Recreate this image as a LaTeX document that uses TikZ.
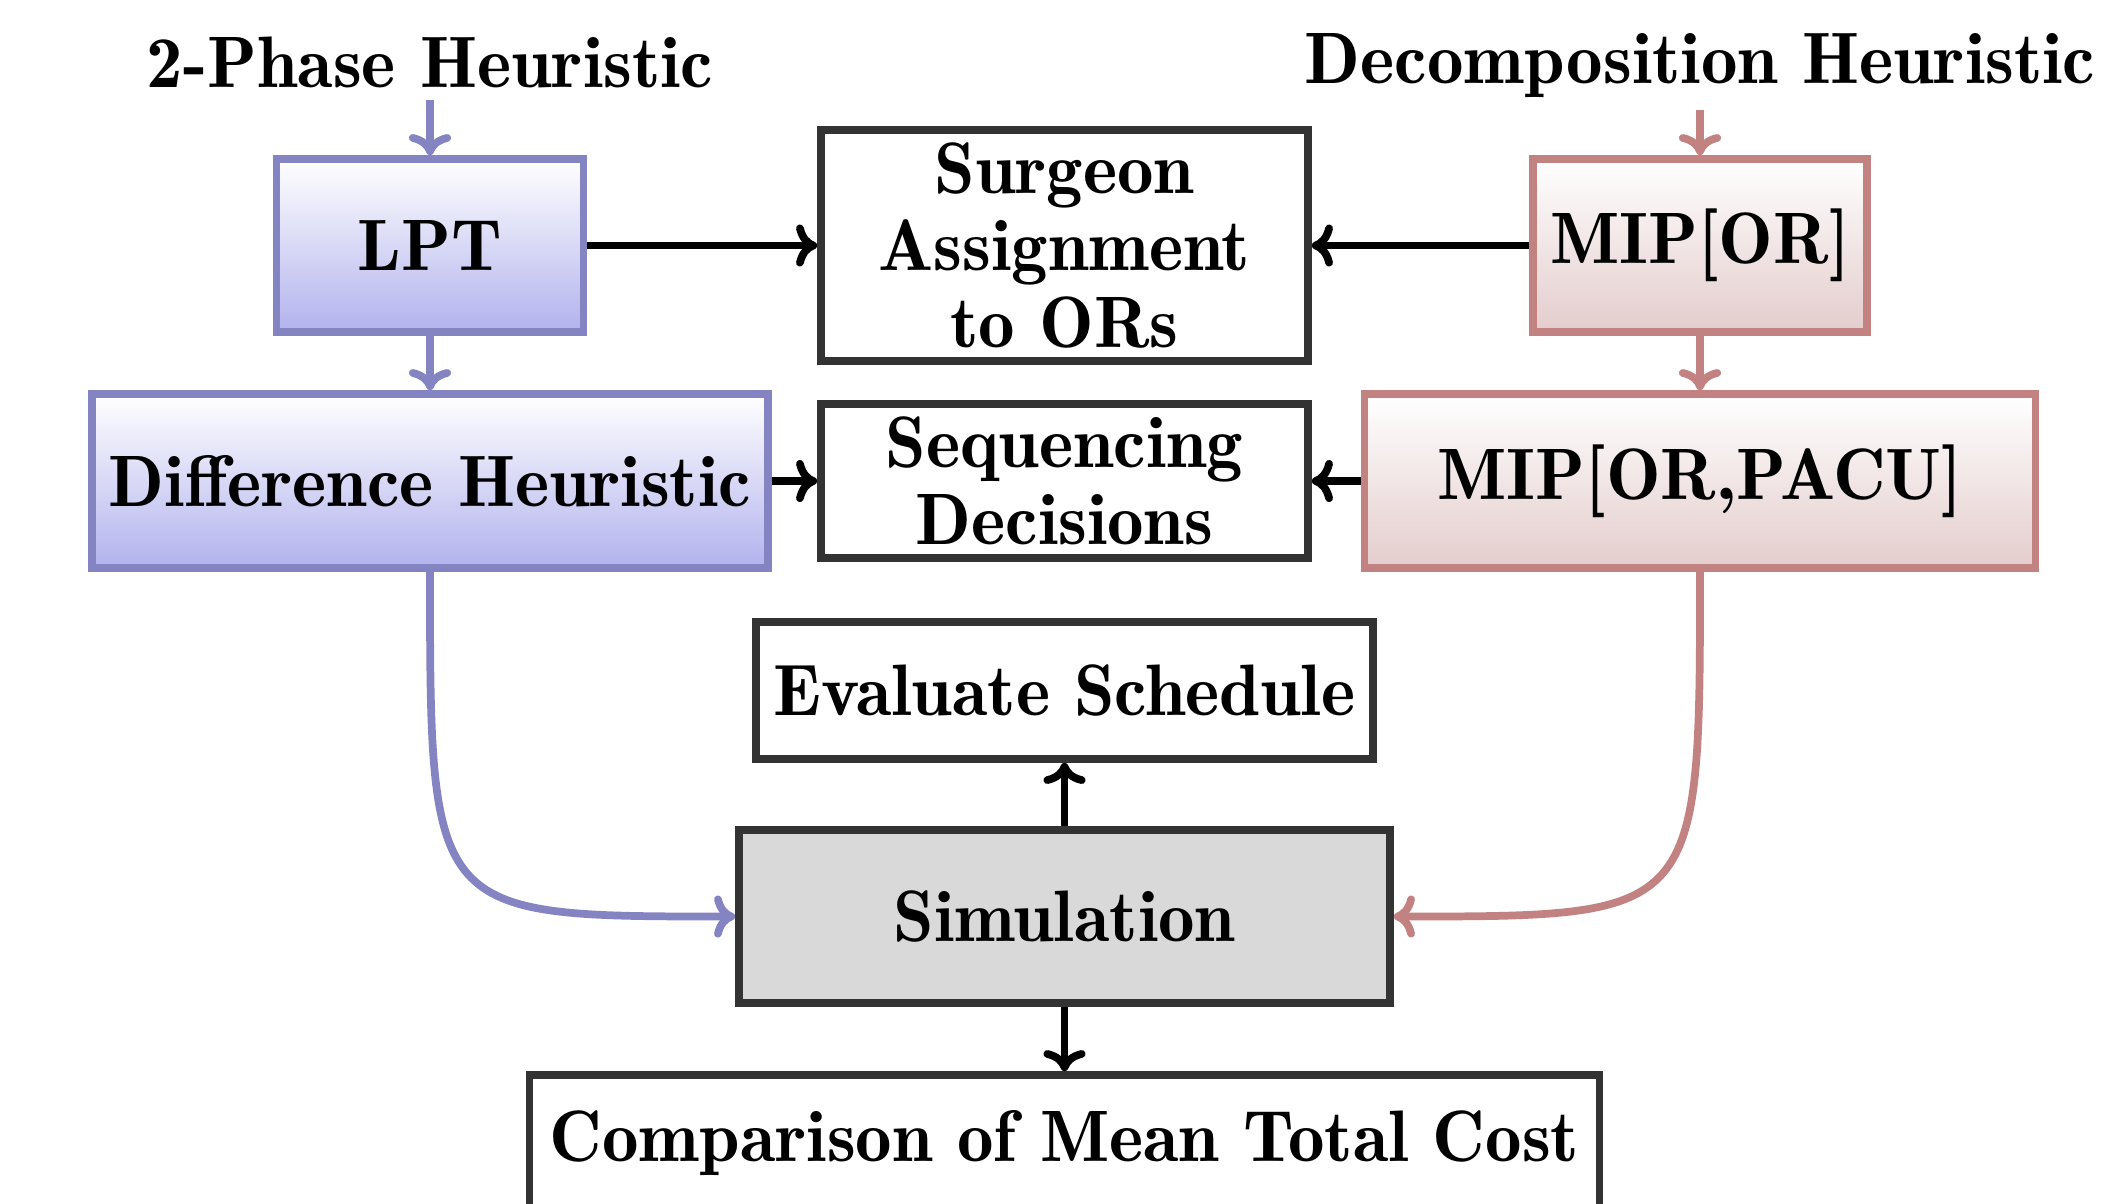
\documentclass[tikz,border=0pt]{standalone}
\usetikzlibrary{arrows.meta}
\definecolor{bl}{RGB}{132,132,194}
\definecolor{blf}{RGB}{178,178,238}
\definecolor{rd}{RGB}{194,130,130}
\definecolor{rdf}{RGB}{228,204,204}
\definecolor{dk}{RGB}{51,51,51}
\definecolor{gr}{RGB}{217,217,217}
\tikzset{
  txt/.style={font=\fontsize{20.74}{21.8}\fontseries{b}\selectfont, align=center},
  box/.style={txt, draw=dk, line width=2.2pt, inner sep=0pt, fill=white},
  bbox/.style={box, draw=bl, top color=white, bottom color=blf},
  rbox/.style={box, draw=rd, top color=white, bottom color=rdf},
  arr/.style={-{To[length=6pt,width=12pt]}, line width=2.2pt, black},
  barr/.style={arr, bl},
  rarr/.style={arr, rd},
}
\begin{document}
\begin{tikzpicture}
\useasboundingbox (0,0) rectangle (21.10,-12.03);
\node[txt, anchor=base] (t1) at (4.30,-0.87) {2-Phase Heuristic};
\node[txt, anchor=base] (t2) at (17.00,-0.83) {Decomposition Heuristic};
\node[bbox, minimum width=3.07cm, minimum height=1.73cm] (lpt) at (4.30,-2.455) {LPT};
\node[bbox, minimum width=6.76cm, minimum height=1.74cm] (dh) at (4.30,-4.81) {Difference Heuristic};
\node[box, minimum width=4.87cm, minimum height=2.31cm] (sa) at (10.645,-2.455) {Surgeon\\Assignment\\to ORs};
\node[box, minimum width=4.87cm, minimum height=1.54cm] (sd) at (10.645,-4.81) {Sequencing\\Decisions};
\node[rbox, minimum width=3.34cm, minimum height=1.73cm] (mo) at (17.00,-2.455) {MIP[OR]};
\node[rbox, minimum width=6.71cm, minimum height=1.74cm] (mp) at (17.00,-4.81) {MIP[OR,PACU]};
\node[box, minimum width=6.17cm, minimum height=1.37cm] (ev) at (10.645,-6.905) {Evaluate Schedule};
\node[box, fill=gr, minimum width=6.51cm, minimum height=1.73cm] (sim) at (10.645,-9.165) {Simulation};
\node[box, minimum width=10.70cm, minimum height=1.37cm] (cmp) at (10.645,-11.435) {Comparison of Mean Total Cost};
\draw[barr] (t1.south) -- (lpt.north);
\draw[barr] (lpt.south) -- (dh.north);
\draw[rarr] (t2.south) -- (mo.north);
\draw[rarr] (mo.south) -- (mp.north);
\draw[arr] (lpt.east) -- (sa.west);
\draw[arr] (mo.west) -- (sa.east);
\draw[arr] (dh.east) -- (sd.west);
\draw[arr] (mp.west) -- (sd.east);
\draw[arr] (sim.north) -- (ev.south);
\draw[arr] (sim.south) -- (cmp.north);
\draw[barr] (dh.south) .. controls (dh.south |- sim.west) and (dh.south |- sim.west) .. (sim.west);
\draw[rarr] (mp.south) .. controls (mp.south |- sim.east) and (mp.south |- sim.east) .. (sim.east);
\end{tikzpicture}
\end{document}
